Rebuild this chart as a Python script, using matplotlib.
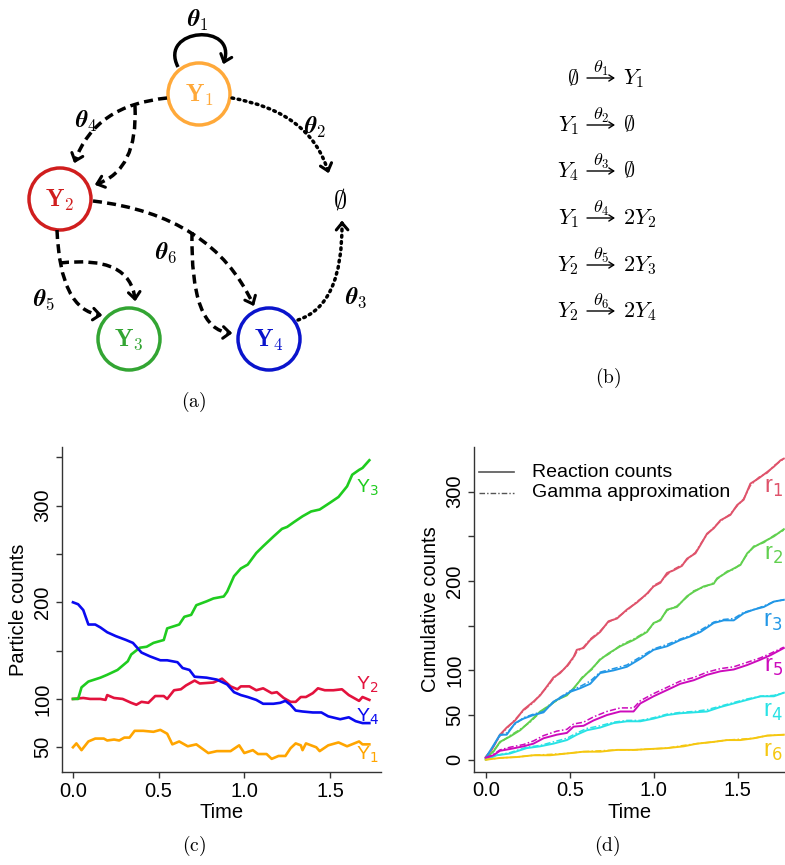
import numpy as np
import matplotlib
matplotlib.use('Agg')
import matplotlib.pyplot as plt
from matplotlib.path import Path
from matplotlib.patches import PathPatch, Circle

plt.rcParams['font.family'] = ['Liberation Sans', 'DejaVu Sans']

# ---------------- Panel (c): particle counts ----------------
y3_t = [0, 0.03, 0.05, 0.09, 0.16, 0.20, 0.26, 0.32, 0.34, 0.39, 0.43, 0.47, 0.53, 0.55, 0.62, 0.65,
        0.69, 0.72, 0.78, 0.82, 0.88, 0.90, 0.94, 0.98, 1.02, 1.07, 1.11, 1.17, 1.22, 1.25, 1.29, 1.34,
        1.39, 1.44, 1.50, 1.55, 1.60, 1.63, 1.67, 1.69, 1.73]
y3_v = [100, 100, 112, 118, 122, 125, 130, 139, 146, 153, 154, 158, 161, 173, 177, 185,
        187, 197, 201, 204, 206, 211, 227, 235, 239, 251, 258, 268, 276, 278, 283, 289,
        294, 296, 303, 309, 320, 332, 337, 339, 347]
y4_t = [0, 0.03, 0.06, 0.09, 0.13, 0.16, 0.20, 0.25, 0.31, 0.35, 0.40, 0.45, 0.51, 0.55, 0.61, 0.64,
        0.68, 0.71, 0.78, 0.84, 0.90, 0.94, 0.98, 1.02, 1.07, 1.11, 1.17, 1.21, 1.24, 1.27, 1.30,
        1.34, 1.40, 1.45, 1.49, 1.56, 1.61, 1.65, 1.69, 1.73]
y4_v = [200, 198, 192, 177, 177, 174, 169, 165, 161, 158, 148, 144, 140, 140, 138, 132,
        130, 123, 122, 120, 115, 107, 104, 102, 99, 95, 95, 96, 98, 94, 88,
        87, 86, 86, 82, 79, 81, 77, 75, 75]
y2_t = [0, 0.06, 0.10, 0.16, 0.19, 0.20, 0.24, 0.29, 0.34, 0.37, 0.40, 0.44, 0.48, 0.53, 0.55, 0.59,
        0.63, 0.66, 0.71, 0.74, 0.82, 0.87, 0.92, 0.96, 0.98, 1.03, 1.07, 1.11, 1.16, 1.19, 1.23,
        1.27, 1.30, 1.33, 1.36, 1.40, 1.43, 1.47, 1.52, 1.57, 1.61, 1.67, 1.69, 1.73]
y2_v = [100, 101, 100, 100, 99, 104, 101, 100, 96, 94, 97, 96, 103, 103, 100, 109,
        110, 114, 119, 116, 117, 121, 113, 110, 113, 113, 109, 111, 106, 107, 101,
        97, 97, 102, 102, 106, 111, 109, 109, 110, 104, 98, 102, 99]
y1_t = [0, 0.02, 0.05, 0.09, 0.13, 0.18, 0.20, 0.24, 0.27, 0.30, 0.33, 0.36, 0.41, 0.47, 0.51, 0.55,
        0.58, 0.62, 0.67, 0.72, 0.79, 0.84, 0.92, 0.97, 1.00, 1.05, 1.08, 1.13, 1.16, 1.20, 1.24,
        1.27, 1.30, 1.33, 1.34, 1.36, 1.42, 1.44, 1.49, 1.55, 1.60, 1.67, 1.69, 1.73]
y1_v = [50, 54, 47, 56, 59, 59, 57, 58, 57, 60, 60, 67, 67, 66, 68, 64,
        53, 56, 51, 53, 44, 46, 46, 52, 44, 47, 43, 43, 38, 41, 41,
        49, 54, 52, 47, 54, 50, 46, 52, 55, 51, 56, 53, 53]
species_labels = ['Y$_1$', 'Y$_2$', 'Y$_3$', 'Y$_4$']
species_colors = ['#FFA500', '#E3123D', '#1FCC1F', '#0A0AF0']
species_label_y = [42, 114.5, 318, 81.7]

# ---------------- Panel (d): cumulative counts ----------------
r1_t = [0, 0.036, 0.085, 0.125, 0.175, 0.225, 0.284, 0.324, 0.364, 0.403, 0.443, 0.483, 0.523, 0.542,
        0.582, 0.622, 0.681, 0.731, 0.781, 0.840, 0.900, 0.960, 0.999, 1.039, 1.079, 1.118, 1.168,
        1.198, 1.248, 1.277, 1.317, 1.357, 1.397, 1.456, 1.496, 1.535, 1.575, 1.625, 1.675, 1.715,
        1.754, 1.774]
r1_v = [3, 11, 28, 36, 44, 56, 65, 72, 82, 92, 97, 105, 115, 123,
        125, 134, 143, 155, 158, 168, 176, 186, 194, 198, 209, 212, 217,
        225, 231, 240, 253, 259, 268, 274, 285, 291, 309, 315, 322, 328,
        335, 337]
r1_g = [3, 12, 27, 35, 45, 55, 64, 73, 81, 91, 98, 104, 114, 121,
        126, 135, 144, 154, 159, 167, 177, 185, 195, 199, 207, 213, 218,
        224, 232, 241, 252, 260, 267, 275, 284, 292, 307, 316, 321, 329,
        334, 337]
r2_t = [0, 0.046, 0.085, 0.145, 0.205, 0.264, 0.324, 0.383, 0.423, 0.483, 0.523, 0.572, 0.632, 0.681,
        0.731, 0.801, 0.880, 0.960, 0.999, 1.039, 1.079, 1.138, 1.198, 1.238, 1.297, 1.357, 1.377,
        1.437, 1.476, 1.516, 1.556, 1.595, 1.655, 1.715, 1.774]
r2_v = [2, 9, 20, 26, 33, 43, 54, 61, 67, 72, 80, 91, 102, 112,
        119, 127, 134, 143, 153, 156, 168, 171, 183, 188, 194, 197, 203,
        210, 214, 218, 231, 238, 244, 250, 258]
r2_g = [2, 10, 19, 27, 34, 42, 53, 62, 66, 73, 79, 92, 101, 113,
        118, 128, 135, 144, 152, 157, 167, 172, 182, 189, 193, 198, 202,
        211, 213, 219, 230, 239, 243, 251, 257]
r3_t = [0, 0.046, 0.085, 0.125, 0.175, 0.225, 0.284, 0.344, 0.403, 0.443, 0.503, 0.562, 0.622, 0.681,
        0.761, 0.840, 0.920, 0.999, 1.079, 1.158, 1.218, 1.278, 1.357, 1.417, 1.476, 1.536, 1.595,
        1.655, 1.715, 1.774]
r3_v = [2, 16, 28, 28, 41, 46, 50, 53, 65, 69, 76, 80, 85, 97,
        100, 104, 113, 123, 127, 134, 138, 143, 153, 156, 156, 164, 168,
        171, 177, 179]
r3_g = [2, 15, 27, 30, 40, 47, 51, 54, 64, 70, 77, 82, 88, 98,
        102, 106, 115, 124, 129, 135, 139, 145, 154, 157, 158, 165, 168,
        172, 177, 179]
r4_t = [0, 0.066, 0.145, 0.244, 0.324, 0.403, 0.483, 0.542, 0.602, 0.681, 0.761, 0.840, 0.920, 0.999,
        1.079, 1.158, 1.238, 1.317, 1.397, 1.476, 1.556, 1.635, 1.715, 1.774]
r4_v = [0, 5, 7, 13, 15, 18, 22, 28, 33, 36, 41, 43, 43, 46,
        50, 52, 53, 54, 59, 63, 67, 71, 71, 75]
r4_g = [0, 5, 8, 14, 16, 20, 24, 30, 35, 38, 42, 44, 44, 47,
        51, 53, 54, 56, 60, 64, 68, 71, 72, 75]
r5_t = [0, 0.046, 0.085, 0.145, 0.225, 0.284, 0.344, 0.423, 0.483, 0.523, 0.582, 0.642, 0.721, 0.801,
        0.880, 0.920, 0.999, 1.079, 1.158, 1.238, 1.317, 1.397, 1.476, 1.556, 1.635, 1.695, 1.774]
r5_v = [2, 5, 10, 12, 15, 18, 24, 28, 30, 37, 38, 44, 50, 54,
        54, 63, 71, 78, 85, 89, 95, 99, 101, 106, 112, 117, 125]
r5_g = [2, 6, 11, 14, 17, 21, 27, 32, 34, 40, 42, 48, 54, 58,
        58, 66, 74, 81, 88, 92, 98, 102, 104, 109, 114, 119, 126]
r6_t = [0, 0.085, 0.185, 0.284, 0.383, 0.483, 0.582, 0.681, 0.781, 0.880, 0.980, 1.079, 1.178, 1.258,
        1.357, 1.437, 1.516, 1.595, 1.675, 1.774]
r6_v = [0, 2, 3, 5, 5, 7, 9, 9, 11, 11, 12, 13, 15, 18,
        20, 22, 22, 24, 27, 28]
r6_g = [0, 2, 3, 5, 6, 7, 9, 10, 11, 11, 12, 13, 16, 18,
        20, 22, 23, 24, 27, 28]
reaction_labels = ['r$_1$', 'r$_2$', 'r$_3$', 'r$_4$', 'r$_5$', 'r$_6$']
reaction_colors = ['#DF536B', '#61D04F', '#2297E6', '#28E2E5', '#CD0BBC', '#F5C710']
reaction_label_y = [304, 229, 154, 53.4, 104, 8.6]

# ---------------- Panel (b): reactions ----------------
react_left = [r'$\emptyset$', r'$Y_1$', r'$Y_4$', r'$Y_1$', r'$Y_2$', r'$Y_2$']
react_rate = [r'$\theta_1$', r'$\theta_2$', r'$\theta_3$', r'$\theta_4$', r'$\theta_5$', r'$\theta_6$']
react_right = [r'$Y_1$', r'$\emptyset$', r'$\emptyset$', r'$2Y_2$', r'$2Y_3$', r'$2Y_4$']

# ---------------- Panel (a): network nodes ----------------
node_text = [r'$\mathbf{Y}_\mathbf{1}$', r'$\mathbf{Y}_\mathbf{2}$', r'$\mathbf{Y}_\mathbf{3}$',
             r'$\mathbf{Y}_\mathbf{4}$']
node_colors = ['#FFA93A', '#D01E1E', '#33A533', '#0A14CC']
node_xy = [(199, 94), (60, 199), (129, 339), (269, 339)]

fig = plt.figure(figsize=(7.85, 8.65), dpi=100)
ax0 = fig.add_axes([0, 0, 1, 1])
ax0.set_xlim(0, 785)
ax0.set_ylim(865, 0)
ax0.axis('off')

DASH = (0, (2.6, 1.5))
DOT = (0, (0.5, 1.3))


def arrowhead(tip, d, L=9.0, ang=40):
    tip = np.asarray(tip, float)
    for s in (1, -1):
        a = np.deg2rad(s * ang)
        R = np.array([[np.cos(a), -np.sin(a)], [np.sin(a), np.cos(a)]])
        b = tip - L * (R @ d)
        ax0.plot([tip[0], b[0]], [tip[1], b[1]], color='black', lw=2.2,
                 solid_capstyle='round')


def quad(p0, c, p1, ls, cap='butt'):
    path = Path([p0, c, p1], [Path.MOVETO, Path.CURVE3, Path.CURVE3])
    pp = PathPatch(path, fill=False, lw=2.5, ls=ls, ec='black', capstyle=cap)
    ax0.add_patch(pp)
    d = np.asarray(p1, float) - np.asarray(c, float)
    arrowhead(p1, d / np.linalg.norm(d))


for (x, y), col, txt in zip(node_xy, node_colors, node_text):
    ax0.add_patch(Circle((x, y), 31, fill=False, ec=col, lw=2.5))
    ax0.text(x, y + 1, txt, color=col, fontsize=17.5, ha='center', va='center',
             math_fontfamily='cm')

# self loop theta1
loop = Path([(178, 67), (158, 28), (238, 22), (224, 62)],
            [Path.MOVETO, Path.CURVE4, Path.CURVE4, Path.CURVE4])
ax0.add_patch(PathPatch(loop, fill=False, lw=2.5, ec='black'))
dl = np.array([224 - 238, 62 - 22], float)
arrowhead((224, 62), dl / np.linalg.norm(dl))

quad((167, 98), (95, 105), (75, 161), DASH)
quad((135, 106), (138, 170), (97, 184), DASH)
quad((232, 98), (310, 112), (328, 171), DOT, cap='round')
quad((298, 320), (343, 305), (342, 223), DOT, cap='round')
quad((93, 201), (212, 215), (253, 304), DASH)
quad((192, 232), (190, 330), (230, 333), DASH)
quad((57, 230), (60, 310), (100, 315), DASH)
quad((60, 263), (130, 255), (135, 299), DASH)

ax0.text(340, 200, r'$\emptyset$', fontsize=19, ha='center', va='center', math_fontfamily='cm')

theta_pos = [(198, 20), (315, 127), (356, 298), (86, 121), (44, 300), (166, 253)]
for i, (x, y) in enumerate(theta_pos):
    ax0.text(x, y, r'$\boldsymbol{\theta}_%d$' % (i + 1), fontsize=17, ha='center', va='center',
             math_fontfamily='cm')

# panel (b)
row_y = [79, 126, 172, 219, 266, 312]
for yy, lft, rt, rgt in zip(row_y, react_left, react_rate, react_right):
    ax0.text(579, yy, lft, fontsize=16, ha='right', va='center', math_fontfamily='cm')
    ax0.annotate('', xy=(615, yy - 1), xytext=(587, yy - 1),
                 arrowprops=dict(arrowstyle='->,head_length=0.35,head_width=0.22', lw=1.0,
                                 color='black', shrinkA=0, shrinkB=0))
    ax0.text(601, yy - 11, rt, fontsize=13, ha='center', va='center', math_fontfamily='cm')
    ax0.text(623, yy, rgt, fontsize=16, ha='left', va='center', math_fontfamily='cm')

for txt, (x, y) in zip(['a', 'b', 'c', 'd'], [(194, 402), (608, 378), (194, 846), (607, 846)]):
    ax0.text(x, y, r'$\mathrm{(%s)}$' % txt, fontsize=14, ha='center', va='center',
             math_fontfamily='cm')


def style_axes(ax):
    for s in ['top', 'right']:
        ax.spines[s].set_visible(False)
    for s in ['left', 'bottom']:
        ax.spines[s].set_color('#333333')
        ax.spines[s].set_linewidth(1.0)
    ax.tick_params(direction='out', length=4, width=1.0, color='#333333', labelsize=14.5, pad=3)
    ax.set_facecolor('none')


# ---------------- Panel (c) ----------------
axc = fig.add_axes([62 / 785, 1 - 772 / 865, 319 / 785, 325 / 865])
style_axes(axc)
series_c = [(y1_t, y1_v), (y2_t, y2_v), (y3_t, y3_v), (y4_t, y4_v)]
for (t, v), col, lab, ly in zip(series_c, species_colors, species_labels, species_label_y):
    axc.plot(t, v, color=col, lw=1.9)
    axc.text(1.72, ly, lab, color=col, fontsize=14, ha='center', va='center',
             math_fontfamily='dejavusans')
axc.set_xlim(-0.064, 1.798)
axc.set_ylim(24.4, 360.7)
axc.set_xticks([0, 0.5, 1.0, 1.5])
axc.set_xticklabels(['0.0', '0.5', '1.0', '1.5'])
axc.set_yticks([50, 100, 150, 200, 250, 300, 350])
axc.set_yticklabels(['50', '100', '', '200', '', '300', ''])
for lab in axc.get_yticklabels():
    lab.set_rotation(90)
    lab.set_va('center')
axc.set_xlabel('Time', fontsize=14.5, labelpad=2)
axc.set_ylabel('Particle counts', fontsize=14.5, labelpad=4)

# ---------------- Panel (d) ----------------
axd = fig.add_axes([474 / 785, 1 - 771.7 / 865, 311 / 785, 324.7 / 865])
style_axes(axd)
series_d = [(r1_t, r1_v, r1_g), (r2_t, r2_v, r2_g), (r3_t, r3_v, r3_g),
            (r4_t, r4_v, r4_g), (r5_t, r5_v, r5_g), (r6_t, r6_v, r6_g)]
for (t, v, g), col, lab, ly in zip(series_d, reaction_colors, reaction_labels, reaction_label_y):
    axd.plot(t, v, color=col, lw=1.4)
    axd.plot(t, g, color=col, lw=1.1, ls=(0, (4, 1.5, 1, 1.5)))
    axd.text(1.71, ly, lab, color=col, fontsize=17, ha='center', va='center',
             math_fontfamily='dejavusans')
axd.set_xlim(-0.0696, 1.781)
axd.set_ylim(-13.4, 350)
axd.set_xticks([0, 0.5, 1.0, 1.5])
axd.set_xticklabels(['0.0', '0.5', '1.0', '1.5'])
axd.set_yticks([0, 50, 100, 150, 200, 250, 300])
axd.set_yticklabels(['0', '50', '100', '', '200', '', '300'])
for lab in axd.get_yticklabels():
    lab.set_rotation(90)
    lab.set_va('center')
axd.set_xlabel('Time', fontsize=14.5, labelpad=2)
axd.set_ylabel('Cumulative counts', fontsize=14.5, labelpad=4)
axd.plot([0.016, 0.129], [0.923, 0.923], color='#555555', lw=1.2, transform=axd.transAxes)
axd.plot([0.016, 0.129], [0.859, 0.859], color='#555555', lw=1.0, ls=(0, (4, 1.5, 1, 1.5)),
         transform=axd.transAxes)
axd.text(0.186, 0.923, 'Reaction counts', fontsize=14, ha='left', va='center', transform=axd.transAxes)
axd.text(0.186, 0.859, 'Gamma approximation', fontsize=14, ha='left', va='center',
         transform=axd.transAxes)

fig.savefig('out.png', dpi=100)
